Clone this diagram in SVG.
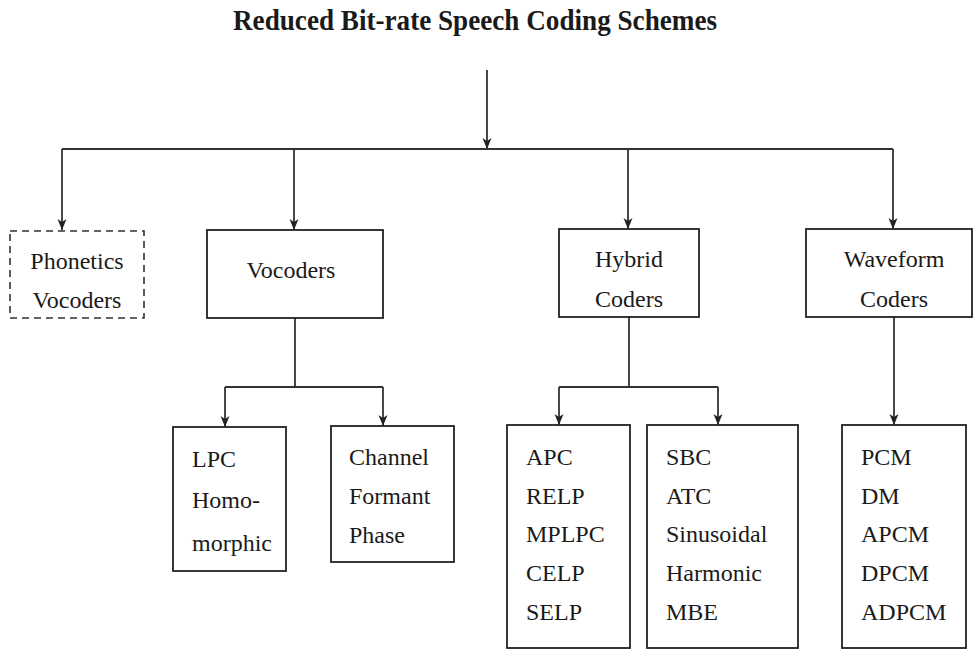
<svg xmlns="http://www.w3.org/2000/svg" width="973" height="649" viewBox="0 0 973 649">
<defs>
<style>
.box{fill:#fff;stroke:#222;stroke-width:1.8}
.dash{fill:#fff;stroke:#333;stroke-width:1.6;stroke-dasharray:7,5}
.ln{fill:none;stroke:#333;stroke-width:1.8}
.t{font-family:"Liberation Serif","Times New Roman",serif;font-size:24px;fill:#1a1a1a}
.c{text-anchor:middle}
.title{font-family:"Liberation Serif","Times New Roman",serif;font-size:29px;font-weight:bold;fill:#1a1a1a}
</style>
<marker id="ah" markerUnits="userSpaceOnUse" markerWidth="12" markerHeight="12" viewBox="0 0 12 12" refX="11" refY="6" orient="auto">
<path d="M0,1.5 L11,6 L0,10.5 L3,6 z" fill="#222"/>
</marker>
</defs>
<rect width="973" height="649" fill="#fff"/>
<text class="title" x="475" y="30" text-anchor="middle" textLength="484" lengthAdjust="spacingAndGlyphs">Reduced Bit-rate Speech Coding Schemes</text>

<g id="connectors">
<line class="ln" x1="487" y1="70" x2="487" y2="149" marker-end="url(#ah)"/>
<line class="ln" x1="62" y1="149" x2="893" y2="149"/>
<line class="ln" x1="62" y1="149" x2="62" y2="230" marker-end="url(#ah)"/>
<line class="ln" x1="294" y1="149" x2="294" y2="230" marker-end="url(#ah)"/>
<line class="ln" x1="628" y1="149" x2="628" y2="229" marker-end="url(#ah)"/>
<line class="ln" x1="893" y1="149" x2="893" y2="229" marker-end="url(#ah)"/>
<line class="ln" x1="295" y1="318" x2="295" y2="387"/>
<line class="ln" x1="225" y1="387" x2="383" y2="387"/>
<line class="ln" x1="225" y1="387" x2="225" y2="427" marker-end="url(#ah)"/>
<line class="ln" x1="383" y1="387" x2="383" y2="426" marker-end="url(#ah)"/>
<line class="ln" x1="629" y1="317" x2="629" y2="387"/>
<line class="ln" x1="559" y1="387" x2="718" y2="387"/>
<line class="ln" x1="559" y1="387" x2="559" y2="425" marker-end="url(#ah)"/>
<line class="ln" x1="718" y1="387" x2="718" y2="425" marker-end="url(#ah)"/>
<line class="ln" x1="894" y1="317" x2="894" y2="425" marker-end="url(#ah)"/>
</g>

<g id="phonetics">
<rect class="dash" x="10" y="231" width="134" height="87"/>
<text class="t c" x="77" y="269">Phonetics</text>
<text class="t c" x="77" y="308">Vocoders</text>
</g>
<g id="vocoders">
<rect class="box" x="207" y="230" width="176" height="88"/>
<text class="t c" x="291" y="278">Vocoders</text>
</g>
<g id="hybrid">
<rect class="box" x="559" y="229" width="140" height="88"/>
<text class="t c" x="629" y="267">Hybrid</text>
<text class="t c" x="629" y="307">Coders</text>
</g>
<g id="waveform">
<rect class="box" x="806" y="229" width="166" height="88"/>
<text class="t c" x="894" y="267">Waveform</text>
<text class="t c" x="894" y="307">Coders</text>
</g>
<g id="lpc">
<rect class="box" x="173" y="427" width="113" height="144"/>
<text class="t" x="192" y="467">LPC</text>
<text class="t" x="192" y="508">Homo-</text>
<text class="t" x="192" y="551">morphic</text>
</g>
<g id="channel">
<rect class="box" x="331" y="426" width="123" height="136"/>
<text class="t" x="349" y="465">Channel</text>
<text class="t" x="349" y="504">Formant</text>
<text class="t" x="349" y="543">Phase</text>
</g>
<g id="apc">
<rect class="box" x="507" y="425" width="123" height="223"/>
<text class="t" x="526" y="465">APC</text>
<text class="t" x="526" y="504">RELP</text>
<text class="t" x="526" y="542">MPLPC</text>
<text class="t" x="526" y="581">CELP</text>
<text class="t" x="526" y="620">SELP</text>
</g>
<g id="sbc">
<rect class="box" x="647" y="425" width="151" height="223"/>
<text class="t" x="666" y="465">SBC</text>
<text class="t" x="666" y="504">ATC</text>
<text class="t" x="666" y="542">Sinusoidal</text>
<text class="t" x="666" y="581">Harmonic</text>
<text class="t" x="666" y="620">MBE</text>
</g>
<g id="pcm">
<rect class="box" x="842" y="425" width="124" height="223"/>
<text class="t" x="861" y="465">PCM</text>
<text class="t" x="861" y="504">DM</text>
<text class="t" x="861" y="542">APCM</text>
<text class="t" x="861" y="581">DPCM</text>
<text class="t" x="861" y="620">ADPCM</text>
</g>
</svg>
